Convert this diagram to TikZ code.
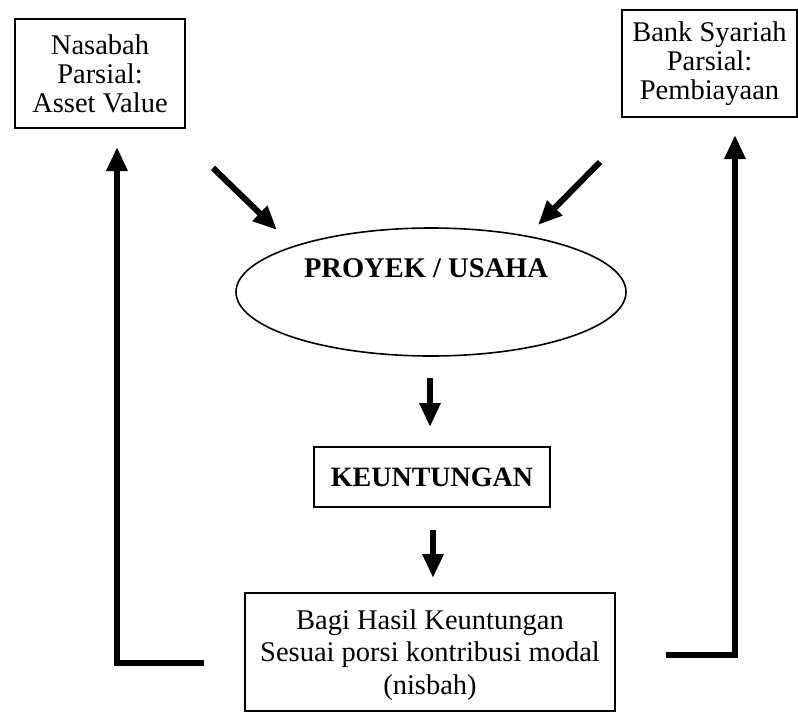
\documentclass[tikz,border=0pt]{standalone}
\usepackage{fontspec}
\setmainfont{Liberation Serif}
\usetikzlibrary{shapes.geometric,arrows.meta}
\begin{document}
\begin{tikzpicture}[x=1pt,y=-1pt,
  txt/.style={font=\fontsize{28.5}{29}\selectfont, align=center, inner sep=0pt},
  box/.style={txt, draw, line width=1.6pt},
  bigarrow/.style={line width=6pt, -{Triangle[length=24pt,width=20pt]}},
  frame/.style={line width=6.5pt, line cap=butt, line join=miter, -{Triangle[length=24pt,width=20pt]}}]
  \useasboundingbox (0,0) rectangle (798,713);

  % partner boxes
  \node[box, minimum width=170, minimum height=109] (nas) at (100,73.5)
    {Nasabah\\Parsial:\\Asset Value};
  \node[box, minimum width=175, minimum height=107] (bank) at (709.5,63.5)
    {Bank Syariah\\Parsial:\\Pembiayaan};

  % project, profit and sharing
  \node[draw, ellipse, line width=1.6pt, minimum width=390, minimum height=128] (proj) at (431,292) {};
  \node[txt, font=\fontsize{28.5}{29}\selectfont\bfseries] (projtxt) at (426,268) {PROYEK / USAHA};
  \node[box, minimum width=236, minimum height=60, font=\fontsize{28}{29}\selectfont\bfseries] (untung) at (432,477) {KEUNTUNGAN};
  \node[box, minimum width=370, minimum height=118, font=\fontsize{28.5}{32.5}\selectfont] (bagi) at (430,652) {};
  \node[txt, font=\fontsize{28.5}{32.5}\selectfont] (bagitxt) at (430,655)
    {Bagi Hasil Keuntungan\\Sesuai porsi kontribusi modal\\(nisbah)};

  % free ends of the arrows
  \coordinate (inL) at (213,168);
  \coordinate (tipL) at (277,230);
  \coordinate (inR) at (600,162);
  \coordinate (tipR) at (538,225);
  \coordinate (a1s) at (430,378);
  \coordinate (a1e) at (430,427);
  \coordinate (a2s) at (433,530);
  \coordinate (a2e) at (433,578);
  \coordinate (lend) at (204,663);
  \coordinate (lcorner) at (117,663);
  \coordinate (ltip) at (117,147);
  \coordinate (rend) at (666,655);
  \coordinate (rcorner) at (735,655);
  \coordinate (rtip) at (735,135);

  % diagonal arrows into the project
  \draw[bigarrow] (inL) -- (tipL);
  \draw[bigarrow] (inR) -- (tipR);

  % downward flow
  \draw[bigarrow] (a1s) -- (a1e);
  \draw[bigarrow] (a2s) -- (a2e);

  % return arrows to the partners
  \draw[frame] (lend) -- (lcorner) -- (ltip);
  \draw[frame] (rend) -- (rcorner) -- (rtip);
\end{tikzpicture}
\end{document}
